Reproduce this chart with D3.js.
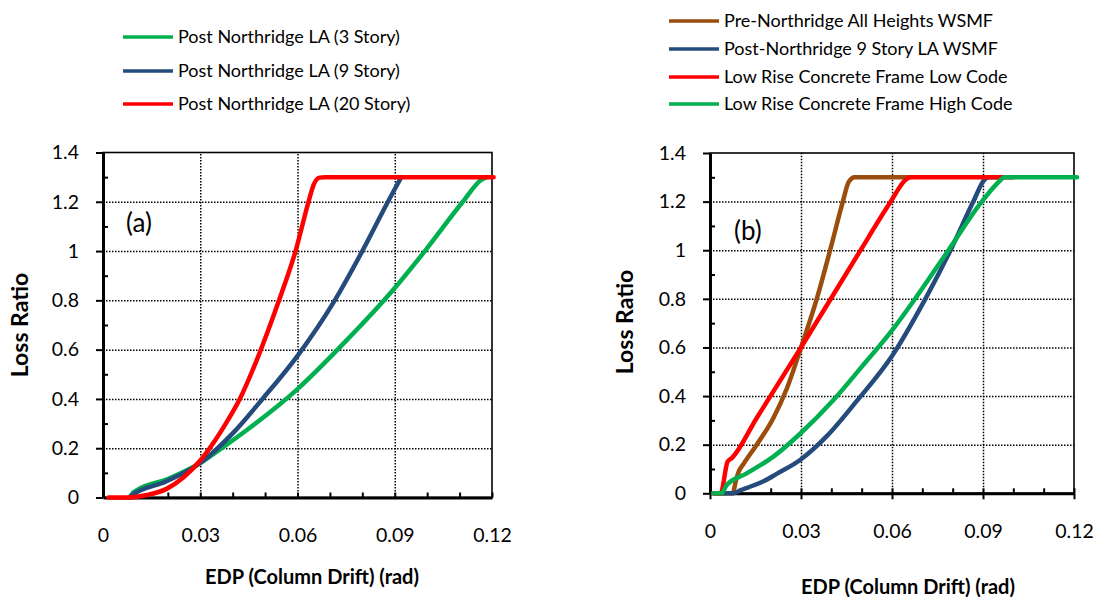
<!DOCTYPE html>
<html>
<head>
<meta charset="utf-8">
<script src="https://cdn.jsdelivr.net/npm/d3@7"></script>
<style>
  body { margin: 0; background: #fff; }
  text { font-family: Lato, 'Noto Sans', sans-serif; fill: #000; }
</style>
</head>
<body>
<div class="chart"></div>
<script>
// tick values shared by both panels
const xTickValues = [0, 0.03, 0.06, 0.09, 0.12];
const yTickValues = [0, 0.2, 0.4, 0.6, 0.8, 1, 1.2, 1.4];
const xMinorValues = [0.01, 0.02, 0.04, 0.05, 0.07, 0.08, 0.1, 0.11];
const yMinorValues = [0.1, 0.3, 0.5, 0.7, 0.9, 1.1, 1.3];

// panel (a): [drift, loss ratio]
const namesA = ['Post Northridge LA (3 Story)', 'Post Northridge LA (9 Story)', 'Post Northridge LA (20 Story)'];
const la3Story = [[0.0085, 0], [0.009, 0.015], [0.0105, 0.03], [0.02, 0.075], [0.03, 0.14], [0.0366, 0.2],
  [0.045, 0.28], [0.06, 0.44], [0.0731, 0.61], [0.09, 0.85], [0.0993, 1.0], [0.111, 1.2], [0.1168, 1.29],
  [0.1185, 1.3]];
const la9Story = [[0.008, 0], [0.009, 0.01], [0.0196, 0.066], [0.03, 0.14], [0.04, 0.26], [0.0492, 0.4],
  [0.06, 0.575], [0.0715, 0.8], [0.08, 1.0], [0.0879, 1.2], [0.092, 1.3]];
const la20Story = [[0.0017, 0], [0.0078, 0], [0.0135, 0.01], [0.0196, 0.035], [0.0247, 0.08], [0.03, 0.15],
  [0.0345, 0.23], [0.0381, 0.305], [0.0422, 0.4], [0.0478, 0.57], [0.0543, 0.8], [0.0594, 1.0],
  [0.0634, 1.2], [0.065, 1.27], [0.0668, 1.298], [0.0685, 1.3], [0.1205, 1.3]];

// panel (b)
const namesB = ['Pre-Northridge All Heights WSMF', 'Post-Northridge 9 Story LA WSMF',
  'Low Rise Concrete Frame Low Code', 'Low Rise Concrete Frame High Code'];
const preNorthridge = [[0.0015, 0], [0.0075, 0], [0.0085, 0.05], [0.0095, 0.09], [0.011, 0.12], [0.0154, 0.2],
  [0.0209, 0.31], [0.0253, 0.43], [0.03, 0.6], [0.0352, 0.8], [0.0396, 1.0], [0.0438, 1.2],
  [0.0457, 1.28], [0.0477, 1.3], [0.066, 1.3]];
const postNorthridge9 = [[0.0027, 0], [0.0077, 0], [0.01, 0.012], [0.0132, 0.027], [0.018, 0.052], [0.022, 0.08],
  [0.0297, 0.137], [0.0385, 0.235], [0.0484, 0.38], [0.06, 0.565], [0.071, 0.8], [0.0793, 1.0],
  [0.0868, 1.2], [0.0905, 1.29], [0.0918, 1.3], [0.097, 1.3]];
const concreteLow = [[0.001, 0], [0.0035, 0], [0.0058, 0.13], [0.0072, 0.145], [0.0154, 0.31], [0.03, 0.6],
  [0.0489, 0.985], [0.0596, 1.2], [0.0645, 1.29], [0.066, 1.3], [0.1, 1.3]];
const concreteHigh = [[0.0011, 0], [0.0038, 0], [0.0055, 0.034], [0.0121, 0.082], [0.0209, 0.151], [0.0297, 0.245],
  [0.0407, 0.384], [0.05, 0.52], [0.06, 0.67], [0.0676, 0.8], [0.0786, 1.0], [0.0896, 1.2], [0.0955, 1.285],
  [0.097, 1.3], [0.121, 1.3]];

const green = '#00B050';
const blue = '#254A7C';
const red = '#FF0000';
const brown = '#9A4D0C';

const svg = d3.select('.chart')
  .append('svg')
  .attr('width', 1097)
  .attr('height', 597);

function drawPanel(p) {
  const x = d3.scaleLinear().domain([0, 0.12]).range([p.left, p.right]);
  const y = d3.scaleLinear().domain([0, 1.4]).range([p.bottom, p.top]);
  const g = svg.append('g');

  // dotted grid
  g.append('g')
    .attr('transform', `translate(${p.left},0)`)
    .call(d3.axisLeft(y).tickValues(yTickValues.slice(1, -1)).tickSize(-(p.right - p.left)).tickFormat(''))
    .call(s => s.select('.domain').remove())
    .selectAll('line').attr('stroke', '#000').attr('stroke-width', 1.5).attr('stroke-dasharray', '1.5,1.5');
  g.append('g')
    .attr('transform', `translate(0,${p.bottom})`)
    .call(d3.axisTop(x).tickValues(xTickValues.slice(1, -1)).tickSize(p.bottom - p.top).tickFormat(''))
    .call(s => s.select('.domain').remove())
    .selectAll('line').attr('stroke', '#000').attr('stroke-width', 1.5).attr('stroke-dasharray', '1.5,1.5');

  // frame
  g.append('rect')
    .attr('x', p.left).attr('y', p.top)
    .attr('width', p.right - p.left).attr('height', p.bottom - p.top)
    .attr('fill', 'none').attr('stroke', '#000').attr('stroke-width', 1.6);

  // y axis
  const yAx = g.append('g')
    .attr('transform', `translate(${p.left},0)`)
    .call(d3.axisLeft(y).tickValues(yTickValues).tickSize(7).tickSizeOuter(0).tickPadding(17)
      .tickFormat(d3.format('')));
  yAx.select('.domain').attr('stroke-width', 3);
  yAx.selectAll('.tick line').attr('stroke-width', 2);
  yAx.selectAll('text').style('font-size', '19.5px');
  g.append('g')
    .attr('transform', `translate(${p.left},0)`)
    .call(d3.axisRight(y).tickValues(yMinorValues).tickSize(5).tickFormat(''))
    .call(s => s.select('.domain').remove())
    .selectAll('line').attr('stroke-width', 2);

  // x axis
  const xAx = g.append('g')
    .attr('transform', `translate(0,${p.bottom})`)
    .call(d3.axisBottom(x).tickValues(xTickValues).tickSize(p.tickDown).tickSizeOuter(0).tickPadding(31 - p.tickDown)
      .tickFormat(d3.format('')));
  xAx.select('.domain').attr('stroke-width', 3);
  xAx.selectAll('.tick line').attr('stroke-width', 2);
  xAx.selectAll('text').style('font-size', '19.5px');
  g.append('g')
    .attr('transform', `translate(0,${p.bottom})`)
    .call(d3.axisTop(x).tickValues(xTickValues.concat(xMinorValues)).tickSize(5).tickFormat(''))
    .call(s => s.select('.domain').remove())
    .selectAll('line').attr('stroke-width', 2);

  // curves
  const line = d3.line()
    .x(d => x(d[0]))
    .y(d => y(d[1]))
    .curve(d3.curveMonotoneX);
  p.series.forEach((s, i) => {
    g.append('path')
      .datum(s)
      .attr('d', line)
      .attr('fill', 'none')
      .attr('stroke', p.colors[i])
      .attr('stroke-width', 4.5)
      .attr('stroke-linejoin', 'round')
      .attr('stroke-linecap', 'round');
  });

  // titles
  g.append('text')
    .attr('transform', `translate(${p.yTitleX},${p.yTitleY}) rotate(-90)`)
    .attr('text-anchor', 'middle')
    .attr('dy', '0.35em')
    .style('font-size', '23px')
    .style('font-weight', 'bold')
    .text('Loss Ratio');
  g.append('text')
    .attr('x', p.xTitleX).attr('y', p.xTitleY)
    .attr('text-anchor', 'middle')
    .attr('dy', '0.35em')
    .style('font-size', '20px')
    .style('font-weight', 'bold')
    .text('EDP (Column Drift) (rad)');
  g.append('text')
    .attr('x', p.tagX).attr('y', p.tagY)
    .attr('dy', '0.35em')
    .style('font-size', '26px')
    .text(p.tag);

  // legend
  const leg = g.selectAll('.legend')
    .data(p.names)
    .enter()
    .append('g')
    .attr('class', 'legend')
    .attr('transform', (d, i) => `translate(${p.legX},${p.legY[i]})`);
  leg.append('line')
    .attr('x1', 0).attr('x2', 50)
    .attr('stroke', (d, i) => p.colors[i])
    .attr('stroke-width', 3.5);
  leg.append('text')
    .attr('x', 55)
    .attr('dy', '0.35em')
    .style('font-size', '18px')
    .text(d => d);
}

drawPanel({
  left: 103, right: 492, top: 152.5, bottom: 497.5, tickDown: 0,
  series: [la3Story, la9Story, la20Story],
  colors: [green, blue, red],
  names: namesA,
  legX: 123, legY: [37, 71, 104],
  yTitleX: 20, yTitleY: 325,
  xTitleX: 312, xTitleY: 577,
  tagX: 126, tagY: 223, tag: '(a)'
});

drawPanel({
  left: 710, right: 1074, top: 153, bottom: 493.3, tickDown: 6,
  series: [preNorthridge, postNorthridge9, concreteLow, concreteHigh],
  colors: [brown, blue, red, green],
  names: namesB,
  legX: 669, legY: [21, 49, 77, 104],
  yTitleX: 625, yTitleY: 322,
  xTitleX: 908, xTitleY: 587,
  tagX: 734, tagY: 231, tag: '(b)'
});
</script>
</body>
</html>
